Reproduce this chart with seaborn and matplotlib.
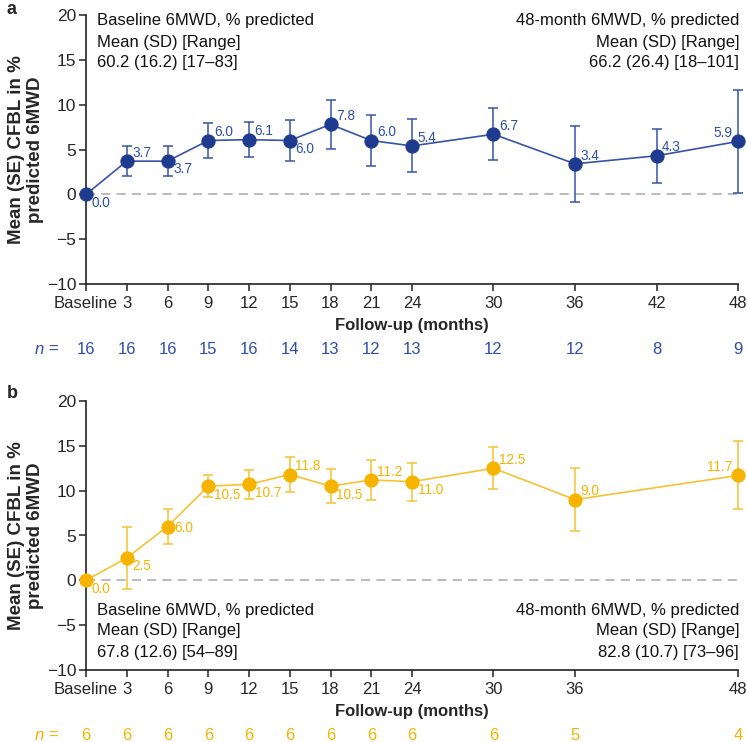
import matplotlib
matplotlib.use("Agg")
import matplotlib.pyplot as plt
import seaborn as sns
import pandas as pd
import numpy as np

# ---- data ----
months_a = [0, 3, 6, 9, 12, 15, 18, 21, 24, 30, 36, 42, 48]
mean_a = [0.0, 3.7, 3.7, 6.0, 6.1, 6.0, 7.8, 6.0, 5.4, 6.7, 3.4, 4.3, 5.9]
se_a = [0.0, 1.65, 1.7, 1.9, 1.95, 2.25, 2.7, 2.85, 2.95, 2.9, 4.2, 3.0, 5.75]
n_a = [16, 16, 16, 15, 16, 14, 13, 12, 13, 12, 12, 8, 9]
lblpos_a = ["br", "ar", "br", "ar", "ar", "br", "ar", "ar", "ar", "ar", "ar", "ar", "al"]
ticks_a = [0, 3, 6, 9, 12, 15, 18, 21, 24, 30, 36, 42, 48]

months_b = [0, 3, 6, 9, 12, 15, 18, 21, 24, 30, 36, 48]
mean_b = [0.0, 2.5, 6.0, 10.5, 10.7, 11.8, 10.5, 11.2, 11.0, 12.5, 9.0, 11.7]
se_b = [0.0, 3.45, 1.9, 1.25, 1.6, 2.0, 1.9, 2.25, 2.1, 2.35, 3.5, 3.8]
n_b = [6, 6, 6, 6, 6, 6, 6, 6, 6, 6, 5, 4]
lblpos_b = ["br", "br", "r", "br", "br", "ar", "br", "ar", "br", "ar", "ar", "al"]
ticks_b = [0, 3, 6, 9, 12, 15, 18, 21, 24, 30, 36, 48]

text_a_left = ["Baseline 6MWD, % predicted", "Mean (SD) [Range]", "60.2 (16.2) [17\u201383]"]
text_a_right = ["48-month 6MWD, % predicted", "Mean (SD) [Range]", "66.2 (26.4) [18\u2013101]"]
text_b_left = ["Baseline 6MWD, % predicted", "Mean (SD) [Range]", "67.8 (12.6) [54\u201389]"]
text_b_right = ["48-month 6MWD, % predicted", "Mean (SD) [Range]", "82.8 (10.7) [73\u201396]"]

BLUE_DOT = "#1e3b8f"
BLUE_LINE = "#3653a8"
BLUE_TXT = "#2f4fa6"
YEL_DOT = "#f6b400"
YEL_LINE = "#f7c233"
YEL_TXT = "#f4b400"

sns.set_theme(style="ticks")
plt.rcParams['font.family'] = ['Liberation Sans', 'DejaVu Sans']
NARROW = ['Liberation Sans Narrow', 'Liberation Sans', 'DejaVu Sans']

W, H = 747, 742
fig = plt.figure(figsize=(W / 100, H / 100), dpi=100)


def px(x, y):
    return x / W, 1 - y / H


def draw_panel(top_px, months, mean, se, n, lblpos, ticks, dot_c, line_c, txt_c,
               tleft, tright, letter_txt, letter_y, text_y0):
    left, right, bottom = 86, 738, top_px + 269
    ax = fig.add_axes([left / W, 1 - bottom / H, (right - left) / W, 269 / H])
    df = pd.DataFrame({"month": months, "mean": mean, "se": se})
    ax.axhline(0, color="#a8a8a8", lw=1.1, dashes=(6, 4), zorder=1)
    ax.errorbar(df["month"], df["mean"], yerr=df["se"], fmt="none", ecolor=line_c,
                elinewidth=1.1, capsize=3.6, capthick=1.1, zorder=2, clip_on=False)
    sns.lineplot(data=df, x="month", y="mean", ax=ax, color=line_c, lw=1.2,
                 marker="o", markersize=9.5, markerfacecolor=dot_c,
                 markeredgecolor=dot_c, zorder=3, clip_on=False)
    for m, v, p in zip(months, mean, lblpos):
        if p == "ar":
            off, ha, va = (4, 6), "left", "center"
        elif p == "br":
            off, ha, va = (4, -6), "left", "center"
        elif p == "al":
            off, ha, va = (-4, 6), "right", "center"
        else:
            off, ha, va = (5, -1), "left", "center"
        ax.annotate(f"{v:.1f}", (m, v), xytext=off, textcoords="offset points",
                    ha=ha, va=va, color=txt_c, fontsize=9.8, zorder=4)
    ax.set_xlim(0, 48)
    ax.set_ylim(-10, 20)
    ax.set_yticks([-10, -5, 0, 5, 10, 15, 20])
    ax.set_yticklabels(["\u221210", "\u22125", "0", "5", "10", "15", "20"], fontsize=12.5)
    ax.set_xticks(ticks)
    ax.set_xticklabels(["Baseline"] + [str(t) for t in ticks[1:]], fontsize=12,
                       family=NARROW)
    ax.tick_params(axis="both", length=5, width=1.1, color="#222222")
    ax.tick_params(axis="x", pad=4)
    ax.tick_params(axis="y", pad=2)
    for s in ["top", "right"]:
        ax.spines[s].set_visible(False)
    for s in ["left", "bottom"]:
        ax.spines[s].set_linewidth(1.2)
        ax.spines[s].set_color("#222222")
    ax.set_xlabel("Follow-up (months)", fontsize=12, fontweight="bold",
                  family=NARROW, labelpad=5)
    ax.set_ylabel("Mean (SE) CFBL in %\npredicted 6MWD", fontsize=13.5,
                  fontweight="bold", linespacing=1.15)
    ax.yaxis.label.set_va("center")
    ax.yaxis.set_label_coords((26 - left) / (right - left), 0.5)
    # n row
    ny = bottom + 65
    fig.text(*px(44, ny), "n", ha="right", va="center", color=txt_c, fontsize=12,
             fontstyle="italic")
    fig.text(*px(58, ny), "=", ha="right", va="center", color=txt_c, fontsize=12)
    for m, k in zip(months, n):
        xx = left + (right - left) * m / 48
        fig.text(*px(xx, ny), str(k), ha="center", va="center", color=txt_c,
                 fontsize=12, family=NARROW)
    # annotation texts
    for i, (a, b) in enumerate(zip(tleft, tright)):
        yy = text_y0 + 21 * i
        fig.text(*px(97, yy), a, ha="left", va="center", fontsize=12, color="#111111")
        fig.text(*px(739, yy), b, ha="right", va="center", fontsize=12, color="#111111")
    fig.text(*px(12, letter_y), letter_txt, ha="center", va="center", fontsize=13,
             fontweight="bold")
    return ax


draw_panel(15, months_a, mean_a, se_a, n_a, lblpos_a, ticks_a, BLUE_DOT, BLUE_LINE,
           BLUE_TXT, text_a_left, text_a_right, "a", 10, 21)
draw_panel(401, months_b, mean_b, se_b, n_b, lblpos_b, ticks_b, YEL_DOT, YEL_LINE,
           YEL_TXT, text_b_left, text_b_right, "b", 393, 610)

fig.savefig("out.png", dpi=100)
